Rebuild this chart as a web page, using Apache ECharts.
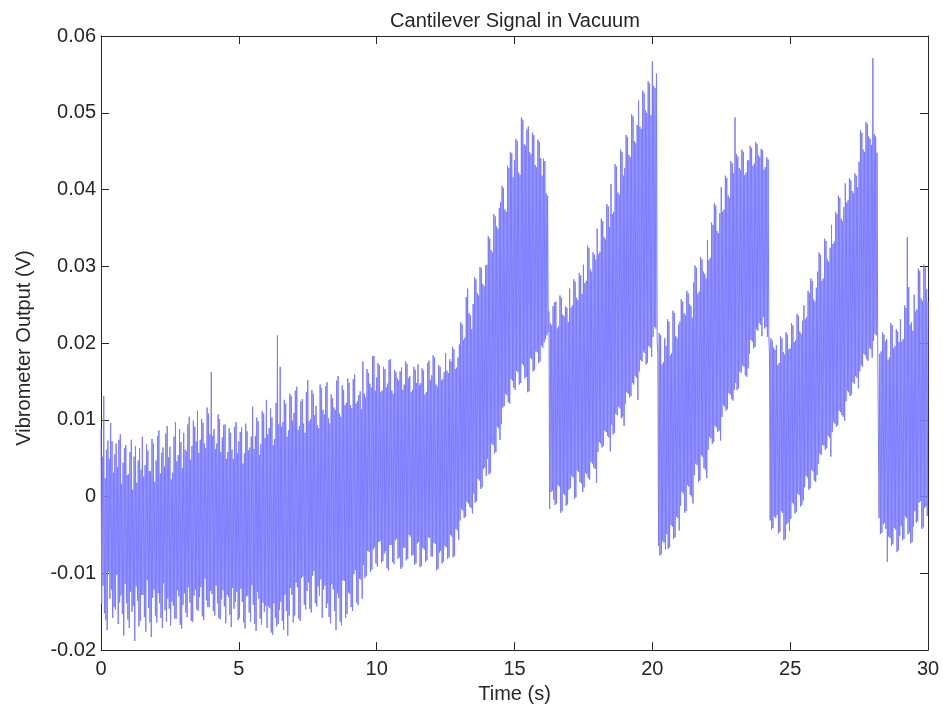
<!DOCTYPE html>
<html>
<head>
<meta charset="utf-8">
<title>Cantilever Signal in Vacuum</title>
<script src="https://cdn.jsdelivr.net/npm/echarts@6/dist/echarts.min.js"></script>
<style>
  html, body { margin: 0; padding: 0; background: #ffffff; }
  #chart { width: 943px; height: 709px; }
</style>
</head>
<body>
<div id="chart"></div>
<script>
// Vibrometer output, one sample every 0.025 s from 0 s to 30 s, in millivolts.
// Each row holds half a second (20 samples).
const sampleInterval = 0.025;
const signalMilliVolts = [
  8.8, -14.0, 5.2, -11.6, 13.1, -15.2, 2.4, -16.1, 6.1, -17.4, 7.3, -9.8, 4.9, -13.3, 9.6, -12.1, 7.2, -15.8, 3.1, -14.4,
  5.5, -14.7, 6.9, -10.2, 3.8, -16.6, 7.4, -13.8, 8.1, -12.9, 1.6, -15.3, 4.4, -18.1, 6.3, -11.4, 6.7, -13.9, 2.8, -16.0,
  2.9, -17.1, 5.8, -12.4, 7.4, -15.0, 0.9, -14.2, 5.2, -18.8, 6.6, -11.7, 1.8, -13.6, 4.7, -16.9, 6.3, -16.2, 3.5, -12.8,
  7.8, -12.8, 2.6, -15.7, 4.1, -17.6, 6.8, -10.9, 6.0, -14.5, 3.3, -16.4, 3.3, -18.3, 7.5, -13.2, 6.9, -12.1, 1.9, -15.5,
  4.7, -16.4, 7.9, -12.6, 8.6, -13.9, 3.0, -15.8, 5.7, -17.1, 6.4, -11.3, 3.9, -14.8, 8.2, -16.3, 9.2, -13.3, 5.1, -14.6,
  6.5, -16.8, 2.2, -13.7, 3.1, -14.2, 7.8, -15.9, 9.7, -15.9, 4.6, -12.2, 5.4, -13.0, 8.8, -16.7, 7.1, -17.2, 3.7, -14.1,
  8.3, -12.6, 6.1, -15.1, 5.9, -15.7, 9.4, -11.8, 10.4, -13.8, 4.8, -16.2, 6.6, -16.3, 9.9, -12.9, 9.1, -12.1, 7.2, -14.7,
  11.2, -14.9, 5.7, -13.1, 7.4, -11.8, 10.1, -15.6, 9.6, -16.1, 6.9, -10.7, 6.3, -13.5, 11.6, -14.4, 10.8, -14.4, 8.1, -12.3,
  16.2, -12.7, 7.9, -14.9, 8.8, -15.5, 6.2, -11.6, 6.9, -13.9, 10.7, -15.8, 10.1, -16.0, 5.8, -13.4, 7.7, -12.2, 9.3, -14.3,
  9.4, -16.5, 4.9, -12.8, 5.8, -13.1, 8.9, -15.4, 8.3, -17.0, 6.1, -11.9, 4.9, -14.6, 9.1, -13.7, 9.7, -12.4, 5.6, -16.1,
  7.2, -15.8, 8.4, -12.0, 9.0, -13.7, 4.3, -16.4, 5.6, -17.2, 9.5, -13.0, 8.5, -12.9, 6.0, -15.1, 6.4, -16.3, 7.8, -11.5,
  11.7, -14.1, 6.2, -16.6, 7.9, -17.5, 10.3, -12.4, 9.8, -13.3, 5.4, -15.9, 6.8, -16.7, 11.1, -13.8, 10.8, -15.0, 7.6, -14.2,
  12.6, -17.1, 8.1, -14.3, 8.9, -14.5, 11.5, -17.7, 10.3, -18.0, 6.7, -13.9, 7.5, -15.8, 12.2, -16.9, 21.0, -16.6, 9.4, -14.8,
  16.9, -13.7, 9.1, -16.2, 9.7, -17.4, 12.6, -12.8, 12.1, -14.9, 7.8, -18.1, 8.6, -15.5, 13.4, -11.9, 13.1, -12.8, 9.9, -16.4,
  10.9, -15.5, 13.8, -11.2, 14.3, -11.8, 8.7, -15.9, 9.2, -16.2, 12.4, -10.6, 12.7, -10.4, 9.5, -14.1, 8.3, -14.7, 13.6, -12.3,
  15.2, -11.2, 9.8, -14.6, 10.1, -15.1, 13.9, -10.3, 13.4, -9.7, 10.6, -13.9, 11.8, -14.3, 9.3, -11.7, 8.9, -12.9, 14.6, -10.8,
  14.1, -15.8, 11.3, -12.1, 10.7, -11.6, 14.4, -14.5, 14.9, -13.9, 10.2, -15.7, 9.5, -16.5, 13.3, -11.4, 12.8, -12.1, 11.6, -14.9,
  11.3, -17.4, 15.1, -12.6, 15.7, -13.2, 10.8, -16.3, 10.4, -16.8, 14.5, -10.9, 13.9, -11.0, 11.9, -15.8, 12.2, -15.3, 15.4, -12.5,
  14.8, -12.7, 11.9, -14.4, 11.5, -14.9, 15.3, -10.1, 15.9, -9.6, 12.1, -13.8, 12.4, -14.1, 13.2, -10.7, 13.7, -10.8, 11.4, -13.3,
  17.6, -8.9, 13.4, -10.6, 12.9, -10.3, 16.6, -7.1, 16.1, -7.2, 14.7, -9.8, 14.2, -9.5, 18.3, -6.9, 18.3, -6.6, 13.8, -8.7,
  15.5, -9.1, 17.4, -5.9, 17.1, -5.8, 13.6, -8.6, 13.8, -8.4, 16.9, -7.4, 16.6, -7.1, 14.2, -9.3, 14.7, -9.6, 17.8, -6.3,
  17.9, -6.3, 13.8, -8.5, 13.4, -8.8, 16.5, -5.7, 16.2, -5.5, 15.4, -8.1, 15.1, -7.9, 16.3, -9.4, 16.8, -9.2, 13.9, -6.6,
  14.6, -6.7, 17.6, -8.3, 17.3, -8.1, 15.4, -5.0, 15.7, -5.2, 13.6, -7.7, 13.9, -7.6, 16.9, -8.9, 16.5, -8.7, 14.8, -6.1,
  17.2, -5.9, 14.5, -9.2, 14.8, -9.0, 16.7, -6.7, 16.4, -6.9, 13.3, -8.5, 13.6, -8.3, 17.4, -5.3, 17.7, -5.4, 15.2, -7.8,
  15.8, -7.8, 18.4, -6.0, 18.1, -6.2, 14.6, -9.6, 14.3, -9.4, 17.1, -7.3, 16.9, -7.1, 15.1, -8.7, 15.3, -8.5, 16.2, -6.4,
  18.7, -6.6, 16.4, -8.1, 16.1, -7.9, 17.9, -5.0, 17.6, -5.2, 19.5, -7.9, 19.2, -7.7, 16.6, -4.2, 16.8, -4.4, 18.1, -5.6,
  19.8, -3.1, 22.7, -1.6, 22.4, -1.8, 20.4, -2.8, 20.7, -2.6, 26.0, -0.7, 27.1, -0.9, 23.9, -1.3, 23.6, -1.5, 21.8, -2.2,
  25.1, 0.4, 28.6, -0.8, 28.3, -0.6, 26.5, 2.3, 26.2, 2.1, 29.9, 1.0, 29.7, 1.2, 27.7, 3.6, 27.4, 3.8, 30.1, 2.7,
  30.2, 4.9, 33.9, 2.9, 33.6, 3.1, 32.1, 6.9, 31.8, 6.7, 36.8, 5.6, 36.5, 5.8, 35.2, 9.1, 34.9, 8.9, 37.6, 7.4,
  38.4, 9.5, 40.5, 11.6, 40.2, 11.8, 37.4, 13.4, 37.1, 13.2, 43.1, 12.3, 42.8, 12.1, 44.9, 15.3, 44.7, 15.1, 41.6, 14.2,
  43.8, 13.9, 46.6, 16.4, 46.3, 16.2, 42.2, 14.6, 41.9, 14.8, 49.4, 17.3, 49.1, 17.1, 45.9, 15.4, 45.7, 15.6, 47.8, 13.6,
  48.2, 13.7, 44.9, 18.1, 44.6, 17.9, 47.4, 16.3, 47.1, 16.5, 43.2, 18.9, 42.9, 18.8, 46.5, 17.4, 46.2, 17.6, 44.1, 19.7,
  41.8, 19.4, 44.0, 20.1, 43.7, 20.5, 39.5, 21.0, 39.2, 21.4, 24.1, -1.6, 22.6, 0.6, 22.3, 0.8, 24.8, -0.4, 25.3, -1.1,
  25.4, -0.9, 21.9, 1.5, 22.2, 1.3, 26.2, -2.1, 25.9, -1.9, 23.7, 0.4, 23.5, 0.2, 24.8, -1.2, 24.6, -1.0, 22.7, 0.9,
  27.1, 1.1, 24.6, 2.7, 24.9, 2.5, 28.3, -0.3, 28.0, -0.1, 25.9, 3.4, 25.6, 3.2, 29.1, 1.9, 28.8, 1.7, 26.4, 0.6,
  30.2, 1.2, 27.8, 3.1, 28.1, 2.9, 32.7, 2.4, 32.4, 2.2, 29.6, 4.5, 29.3, 4.3, 31.8, 3.8, 31.5, 3.6, 30.9, 1.8,
  34.9, 5.8, 31.6, 7.1, 31.9, 6.9, 36.2, 6.4, 35.9, 6.6, 33.8, 8.6, 33.5, 8.4, 38.1, 7.9, 37.8, 7.7, 35.1, 5.9,
  40.7, 9.4, 36.8, 8.1, 37.1, 8.3, 43.3, 10.8, 43.0, 10.6, 39.6, 11.7, 39.3, 11.5, 45.2, 10.2, 44.9, 10.4, 41.8, 9.2,
  42.8, 12.1, 47.1, 13.6, 46.8, 13.4, 44.5, 12.9, 44.2, 13.1, 49.8, 14.8, 49.5, 14.6, 46.3, 15.7, 46.0, 15.5, 48.4, 12.6,
  51.6, 16.3, 48.2, 17.8, 47.9, 17.6, 52.9, 18.9, 52.6, 18.7, 50.3, 17.2, 50.0, 17.4, 54.1, 19.6, 53.8, 19.4, 49.7, 18.2,
  56.7, 20.8, 53.5, 22.1, 53.2, 21.9, 55.1, 20.3, 18.8, -6.4, 21.3, -7.7, 21.0, -7.5, 17.2, -5.8, 17.5, -6.0, 20.6, -6.9,
  19.6, -4.9, 23.1, -6.8, 22.8, -6.6, 18.4, -3.7, 18.7, -3.9, 24.2, -5.5, 23.9, -5.3, 20.9, -2.6, 20.6, -2.8, 22.4, -4.4,
  22.8, -1.2, 25.7, 0.6, 25.4, 0.4, 23.9, -2.1, 23.6, -1.9, 26.8, 1.5, 26.5, 1.3, 25.1, 0.2, 24.8, 0.0, 23.3, -0.9,
  27.9, 2.8, 30.1, 4.3, 29.8, 4.1, 26.4, 1.9, 26.7, 2.1, 31.2, 5.4, 30.9, 5.2, 29.3, 3.7, 29.0, 3.5, 28.4, 2.4,
  33.4, 6.1, 30.8, 7.8, 31.1, 7.6, 35.7, 6.9, 35.4, 7.1, 38.2, 9.2, 37.9, 9.0, 34.6, 8.4, 34.3, 8.6, 36.9, 7.3,
  40.3, 10.4, 37.1, 11.9, 37.4, 11.7, 41.8, 11.2, 41.5, 11.4, 39.2, 13.5, 38.9, 13.3, 43.7, 12.7, 43.4, 12.5, 42.1, 13.9,
  49.4, 14.8, 44.6, 13.9, 44.3, 14.1, 42.8, 16.3, 42.5, 16.1, 45.2, 17.1, 44.9, 16.9, 41.9, 15.8, 42.2, 15.6, 43.8, 16.7,
  43.8, 18.6, 45.7, 20.4, 45.4, 20.2, 43.1, 19.3, 43.4, 19.5, 46.2, 21.8, 45.9, 21.6, 44.5, 22.6, 44.2, 22.4, 45.3, 20.9,
  45.1, 23.4, 42.6, 21.9, 42.9, 22.1, 44.2, 20.8, 43.9, 21.0, 18.3, -3.1, 20.6, -4.3, 20.3, -4.1, 19.4, -2.6, 19.1, -2.8,
  19.7, -2.4, 17.1, -4.8, 17.4, -4.6, 20.9, -1.9, 20.6, -2.1, 18.8, -5.7, 18.5, -5.5, 21.4, -3.6, 21.1, -3.4, 19.2, -4.5,
  19.3, -2.9, 22.6, -0.8, 22.3, -1.0, 20.1, -2.2, 20.4, -2.0, 23.8, 0.4, 23.5, 0.2, 21.5, -1.3, 21.2, -1.1, 22.9, -0.5,
  24.9, 1.2, 23.1, 2.7, 23.4, 2.5, 26.8, 0.9, 26.5, 1.1, 28.4, 3.5, 28.1, 3.3, 25.7, 2.1, 25.4, 1.9, 27.2, 2.8,
  29.3, 4.3, 31.8, 5.6, 31.5, 5.4, 28.1, 6.8, 28.4, 6.6, 33.6, 6.1, 33.3, 6.3, 30.9, 7.9, 30.6, 7.7, 32.4, 5.2,
  35.4, 8.4, 32.9, 9.7, 33.2, 9.5, 37.1, 9.1, 36.8, 9.3, 39.2, 11.2, 38.9, 11.0, 36.2, 10.6, 35.9, 10.4, 37.7, 9.9,
  40.8, 12.4, 38.3, 13.8, 38.6, 13.6, 41.5, 13.1, 41.2, 13.3, 39.8, 14.9, 39.5, 14.7, 42.1, 15.7, 41.8, 15.5, 40.3, 14.1,
  43.6, 16.3, 47.7, 17.1, 47.4, 16.9, 45.2, 18.6, 44.9, 18.4, 48.8, 17.9, 48.5, 17.7, 46.9, 19.4, 46.6, 19.2, 45.8, 18.1,
  57.1, 20.3, 47.2, 21.2, 46.9, 21.0, 44.8, 19.8, 19.7, -2.8, 18.6, -4.9, 18.9, -4.7, 21.4, -3.6, 21.1, -3.4, 20.2, -4.2,
  20.5, -8.5, 17.8, -5.2, 18.1, -5.4, 22.6, -6.4, 22.3, -6.2, 19.3, -4.1, 19.6, -4.3, 21.8, -7.2, 21.5, -7.0, 20.1, -5.1,
  23.1, -3.8, 20.2, -5.7, 20.5, -5.5, 24.9, -2.6, 24.6, -2.8, 33.8, -4.9, 27.3, -4.7, 22.4, -6.1, 22.7, -5.9, 21.6, -3.9,
  26.3, -1.9, 24.1, -3.4, 24.4, -3.2, 29.7, -0.8, 29.4, -0.6, 25.8, -4.2, 25.5, -4.0, 30.2, -1.5, 29.9, -1.3, 27.0, -2.5,
  25.4
];

// Axis tick positions
const xTicks = [0, 5, 10, 15, 20, 25, 30];
const yTicks = [-0.02, -0.01, 0, 0.01, 0.02, 0.03, 0.04, 0.05, 0.06];

const titleText = 'Cantilever Signal in Vacuum';
const xName = 'Time (s)';
const yName = 'Vibrometer Output (V)';

const FONT = '"Liberation Sans", Arial, Helvetica, sans-serif';
const INK = '#262626';
const FONT_SIZE = 20;

// [time in s, output in V]
const points = signalMilliVolts.map((mv, i) => [i * sampleInterval, mv / 1000]);

const xMin = xTicks[0], xMax = xTicks[xTicks.length - 1], xStep = xTicks[1] - xTicks[0];
const yMin = yTicks[0], yMax = yTicks[yTicks.length - 1], yStep = 0.01;

const fmtY = v => String(+v.toFixed(2));

const frameLine = { show: true, onZero: false, lineStyle: { color: INK, width: 1 } };
const innerTick = { show: true, inside: true, length: 8, lineStyle: { color: INK, width: 1 } };

const chart = echarts.init(document.getElementById('chart'), null, { renderer: 'canvas' });

chart.setOption({
  backgroundColor: '#ffffff',
  animation: false,
  title: {
    text: titleText,
    left: 510,
    textAlign: 'center',
    top: 6,
    textStyle: { fontFamily: FONT, fontSize: FONT_SIZE, fontWeight: 'normal', color: INK }
  },
  grid: { left: 101, right: 15, top: 36, bottom: 57, containLabel: false },
  xAxis: [
    {
      type: 'value', position: 'bottom',
      min: xMin, max: xMax, interval: xStep,
      axisLine: frameLine, axisTick: innerTick, splitLine: { show: false },
      axisLabel: { margin: 9, fontFamily: FONT, fontSize: FONT_SIZE, color: INK },
      name: xName, nameLocation: 'middle', nameGap: 31,
      nameTextStyle: { fontFamily: FONT, fontSize: FONT_SIZE, color: INK }
    },
    {
      type: 'value', position: 'top',
      min: xMin, max: xMax, interval: xStep,
      axisLine: frameLine, axisTick: innerTick, splitLine: { show: false },
      axisLabel: { show: false }
    }
  ],
  yAxis: [
    {
      type: 'value', position: 'left',
      min: yMin, max: yMax, interval: yStep,
      axisLine: frameLine, axisTick: innerTick, splitLine: { show: false },
      axisLabel: { margin: 5, fontFamily: FONT, fontSize: FONT_SIZE, color: INK, formatter: fmtY },
      name: yName, nameLocation: 'middle', nameGap: 67, nameRotate: 90,
      nameTextStyle: { fontFamily: FONT, fontSize: FONT_SIZE, color: INK, padding: [0, 10, 0, 0] }
    },
    {
      type: 'value', position: 'right',
      min: yMin, max: yMax, interval: yStep,
      axisLine: frameLine, axisTick: innerTick, splitLine: { show: false },
      axisLabel: { show: false }
    }
  ],
  series: [
    {
      type: 'line',
      xAxisIndex: 0, yAxisIndex: 0,
      data: points,
      showSymbol: false,
      symbol: 'none',
      sampling: false,
      clip: true,
      lineStyle: { color: '#7c7cff', width: 1 },
      emphasis: { disabled: true }
    }
  ]
});
</script>
</body>
</html>
